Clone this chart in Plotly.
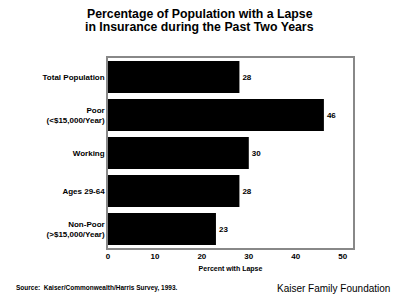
import plotly.graph_objects as go

categories = ["Total Population", "Poor<br>(&lt;$15,000/Year)", "Working", "Ages 29-64",
              "Non-Poor<br>(&gt;$15,000/Year)"]
values = [28, 46, 30, 28, 23]
x_ticks = [0, 10, 20, 30, 40, 50]
title_lines = ["Percentage of Population with a Lapse", "in Insurance during the Past Two Years"]

FONT = "Liberation Sans, Arial, sans-serif"

fig = go.Figure(go.Bar(
    x=values, y=categories, orientation="h",
    marker=dict(color="black", line=dict(width=0)),
    text=values, texttemplate="<b>%{x}</b>", textposition="outside",
    textfont=dict(family=FONT, size=8, color="black"),
    cliponaxis=False,
))

fig.update_layout(
    width=400, height=306,
    margin=dict(l=108, r=47, t=58, b=58),
    paper_bgcolor="white", plot_bgcolor="white",
    showlegend=False,
    bargap=0.16,
    xaxis=dict(
        range=[0, 52.2], tickvals=x_ticks, showgrid=False, zeroline=False,
        showline=True, mirror=True, linecolor="#888888", linewidth=1.5,
        ticks="", tickfont=dict(family=FONT, size=8, color="black", weight="bold"),
        title=dict(text="Percent with Lapse", font=dict(family=FONT, size=7, color="black", weight="bold"),
                   standoff=6),
    ),
    yaxis=dict(
        autorange="reversed", showgrid=False, zeroline=False,
        showline=True, mirror=True, linecolor="#888888", linewidth=1.5,
        ticks="", ticklabelstandoff=0,
        tickfont=dict(family=FONT, size=8, color="black", weight="bold"),
    ),
)

for line, ypos in zip(title_lines, [1.2316, 1.163]):
    fig.add_annotation(
        text="<b>" + line + "</b>",
        xref="paper", yref="paper", x=0.375, y=ypos, xanchor="center", yanchor="middle",
        showarrow=False, font=dict(family=FONT, size=12.3, color="black"))
fig.add_annotation(text="<b>Source:  Kaiser/Commonwealth/Harris Survey, 1993.</b>",
                   xref="paper", yref="paper", x=-0.382, y=-0.212, xanchor="left", yanchor="middle",
                   showarrow=False, font=dict(family=FONT, size=6.5, color="black"))
fig.add_annotation(text="Kaiser Family Foundation",
                   xref="paper", yref="paper", x=1.16, y=-0.212, xanchor="right", yanchor="middle",
                   showarrow=False, font=dict(family=FONT, size=10, color="black"))

fig.write_html("out.html")
